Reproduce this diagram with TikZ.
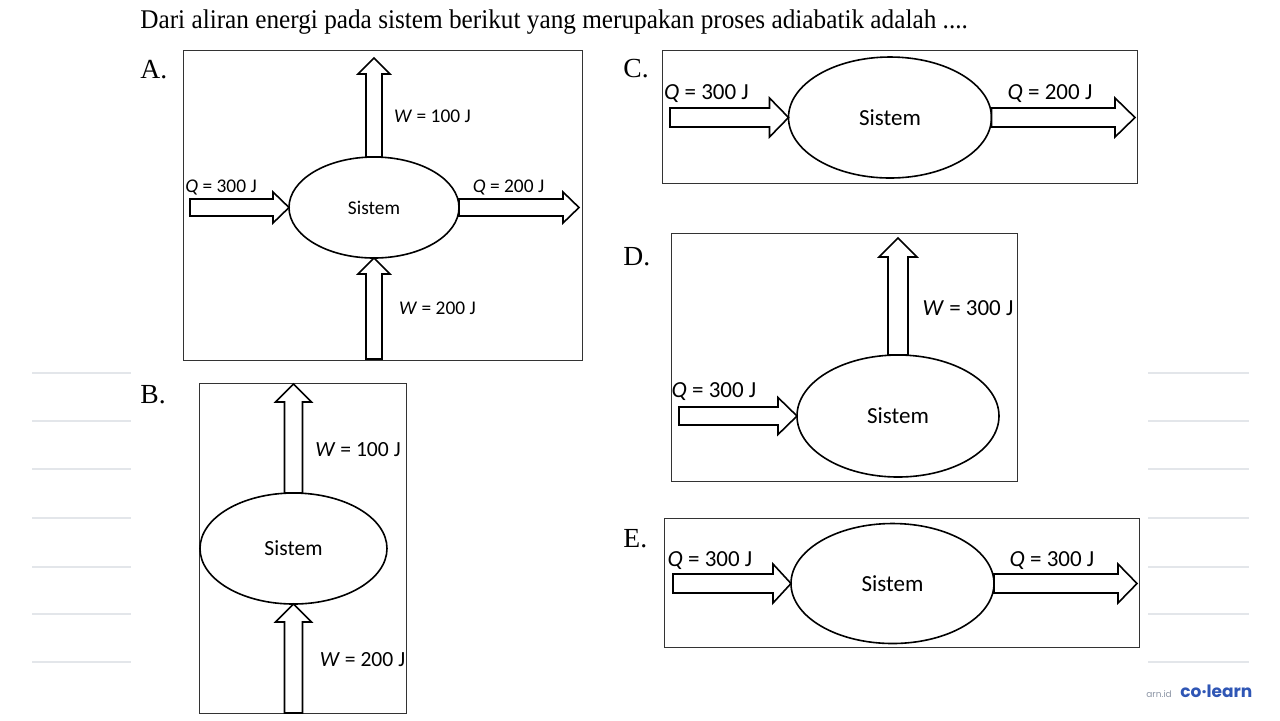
\documentclass[tikz,border=0pt]{standalone}
\usepackage{fontspec}
\setmainfont{Liberation Serif}
\newfontfamily\titlefont[FakeStretch=0.935]{Liberation Serif}
\newfontfamily\lblfont{Carlito}
\newfontfamily\logofont{Poppins}
\usetikzlibrary{calc,shapes.geometric}
\definecolor{rulegray}{HTML}{E3E6EA}
\definecolor{logoblue}{HTML}{2F56B5}
\definecolor{logogray}{HTML}{8C95A5}
\tikzset{
  panel/.style={draw=black!80, line width=0.5pt},
  sys/.style={draw, ellipse, line width=0.8pt, inner sep=0pt, outer sep=0pt, fill=white,
    font=\lblfont\fontsize{#1}{#1}\selectfont},
  flow/.style={draw, line width=0.8pt, fill=white, line join=miter},
  lbl/.style={font=\lblfont\fontsize{#1}{#1}\selectfont, inner sep=0pt, anchor=base},
  optlbl/.style={font=\fontsize{13.8}{13.8}\selectfont, inner sep=0pt, anchor=base west},
  rule/.style={rulegray, line width=1pt},
}
% block arrow pointing right: tail, tip, shaft half, head half, head length
\newcommand{\flowH}[5]{%
  \draw[flow] let \p1=(#1), \p2=(#2) in
    (\x1,\y1+#3) -- (\x2-#5,\y1+#3) -- (\x2-#5,\y1+#4) -- (\x2,\y1)
    -- (\x2-#5,\y1-#4) -- (\x2-#5,\y1-#3) -- (\x1,\y1-#3) -- cycle;}
% block arrow pointing up: tail, tip, shaft half, head half, head length
\newcommand{\flowV}[5]{%
  \draw[flow] let \p1=(#1), \p2=(#2) in
    (\x1-#3,\y1) -- (\x1-#3,\y2-#5) -- (\x1-#4,\y2-#5) -- (\x1,\y2)
    -- (\x1+#4,\y2-#5) -- (\x1+#3,\y2-#5) -- (\x1+#3,\y1) -- cycle;}
\begin{document}
\begin{tikzpicture}[x=0.5pt,y=-0.5pt]
  \useasboundingbox (0,0) rectangle (1280,720);
  \node[font=\titlefont\fontsize{13.5}{13.5}\selectfont, inner sep=0pt, anchor=base west] (question) at (140,28)
    {Dari aliran energi pada sistem berikut yang merupakan proses adiabatik adalah ....};

  % side rulings
  \foreach \y in {373,421,469,518,567,614,662} {
    \draw[rule] (32,\y) -- (131,\y);
    \draw[rule] (1148,\y) -- (1249,\y);
  }

  % A
  \node[optlbl] (optA) at (140,78) {A.};
  \draw[panel] (183,50) rectangle (582,360);
  \node[sys=9.7pt, minimum width=85pt, minimum height=50.5pt] (sysA) at (374,207.5) {Sistem};
  \coordinate (aQin) at (190,207.5);
  \coordinate (aQout) at (579,207.5);
  \coordinate (aWout) at (374,58);
  \coordinate (aWin) at (374,359);
  \flowH{aQin}{sysA.west}{4.25pt}{7.75pt}{8pt}
  \flowH{sysA.east}{aQout}{4.25pt}{7.75pt}{8pt}
  \flowV{sysA.north}{aWout}{4pt}{8pt}{8pt}
  \flowV{aWin}{sysA.south}{4pt}{8pt}{8pt}
  \node[lbl=9.7pt] (aQinl) at (221,192) {\textit{Q} = 300 J};
  \node[lbl=9.7pt] (aQoutl) at (508.5,192) {\textit{Q} = 200 J};
  \node[lbl=9.7pt] (aWoutl) at (432.5,122) {\textit{W} = 100 J};
  \node[lbl=9.7pt] (aWinl) at (437.5,314) {\textit{W} = 200 J};

  % B
  \node[optlbl] (optB) at (140,403) {B.};
  \draw[panel] (199,383) rectangle (406,713);
  \node[sys=10.8pt, minimum width=93.5pt, minimum height=55.5pt] (sysB) at (293.5,548.5) {Sistem};
  \coordinate (bWout) at (293.5,384);
  \coordinate (bWin) at (293.5,713);
  \flowV{sysB.north}{bWout}{4.5pt}{9pt}{9pt}
  \flowV{bWin}{sysB.south}{4.5pt}{9pt}{9pt}
  \node[lbl=10.8pt] (bWoutl) at (358,456) {\textit{W} = 100 J};
  \node[lbl=10.8pt] (bWinl) at (362.5,666) {\textit{W} = 200 J};

  % C
  \node[optlbl] (optC) at (623,77) {C.};
  \draw[panel] (662,50) rectangle (1137,183);
  \node[sys=11.5pt, minimum width=101.5pt, minimum height=60.5pt] (sysC) at (890,117.5) {Sistem};
  \coordinate (cQin) at (670,117.5);
  \coordinate (cQout) at (1135,117.5);
  \flowH{cQin}{sysC.west}{4.75pt}{9.75pt}{9.5pt}
  \flowH{sysC.east}{cQout}{4.75pt}{9.75pt}{10pt}
  \node[lbl=11.5pt] (cQinl) at (706.5,99) {\textit{Q} = 300 J};
  \node[lbl=11.5pt] (cQoutl) at (1050,99) {\textit{Q} = 200 J};

  % D
  \node[optlbl] (optD) at (623,265) {D.};
  \draw[panel] (671,233) rectangle (1017,481);
  \node[sys=11.5pt, minimum width=101pt, minimum height=61pt] (sysD) at (898,416) {Sistem};
  \coordinate (dQin) at (679,416);
  \coordinate (dWout) at (898,238);
  \flowH{dQin}{sysD.west}{4.5pt}{9.25pt}{9.5pt}
  \flowV{sysD.north}{dWout}{5pt}{9.5pt}{9.5pt}
  \node[lbl=11.5pt] (dQinl) at (714,397) {\textit{Q} = 300 J};
  \node[lbl=11.5pt] (dWoutl) at (968,315) {\textit{W} = 300 J};

  % E
  \node[optlbl] (optE) at (623,547) {E.};
  \draw[panel] (664,518) rectangle (1139,647);
  \node[sys=11.5pt, minimum width=101.5pt, minimum height=60pt] (sysE) at (892.5,583.5) {Sistem};
  \coordinate (eQin) at (673,583.5);
  \coordinate (eQout) at (1137,583.5);
  \flowH{eQin}{sysE.west}{4.75pt}{9.75pt}{9pt}
  \flowH{sysE.east}{eQout}{4.75pt}{9.75pt}{9.5pt}
  \node[lbl=11.5pt] (eQinl) at (710,566) {\textit{Q} = 300 J};
  \node[lbl=11.5pt] (eQoutl) at (1052,566) {\textit{Q} = 300 J};

  % logo
  \node[font=\logofont\fontsize{4.5}{4.5}\selectfont, text=logogray, inner sep=0pt, anchor=base west] (site) at (1146,697) {arn.id};
  \node[font=\logofont\bfseries\fontsize{8.5}{8.5}\selectfont, text=logoblue, inner sep=0pt, anchor=base west] (logo) at (1180,697) {co·learn};
\end{tikzpicture}
\end{document}
